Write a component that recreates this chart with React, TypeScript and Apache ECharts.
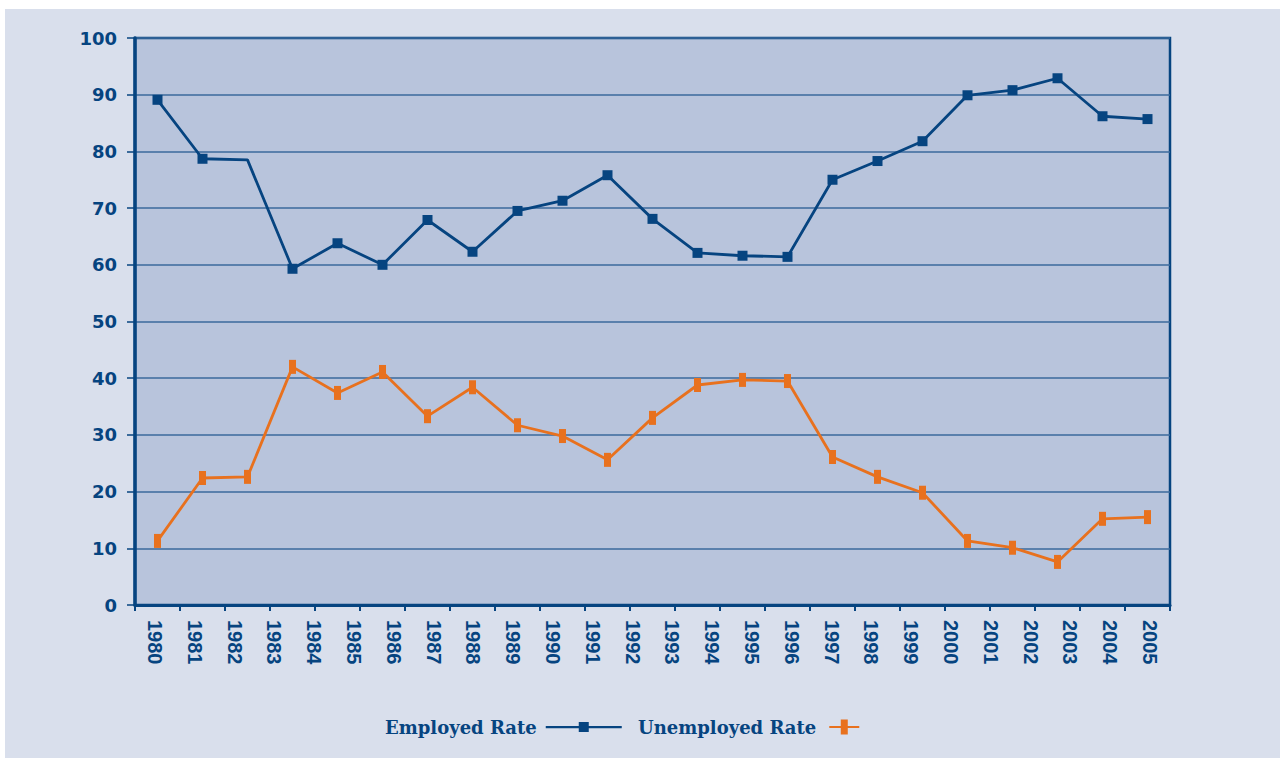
import React, { useEffect, useRef } from "react";
import * as echarts from "echarts";

// 23 plotted observations (evenly spaced along the category axis)
const pointKeys = [
  "p01", "p02", "p03", "p04", "p05", "p06", "p07", "p08", "p09", "p10", "p11", "p12",
  "p13", "p14", "p15", "p16", "p17", "p18", "p19", "p20", "p21", "p22", "p23",
];
// 26 year tick labels printed under the axis
const yearLabels = [
  "1980", "1981", "1982", "1983", "1984", "1985", "1986", "1987", "1988", "1989",
  "1990", "1991", "1992", "1993", "1994", "1995", "1996", "1997", "1998", "1999",
  "2000", "2001", "2002", "2003", "2004", "2005",
];
const employedRate = [
  89.1, 78.7, 78.5, 59.3, 63.8, 60.0, 67.9, 62.3, 69.5, 71.3, 75.8, 68.1,
  62.1, 61.6, 61.4, 75.0, 78.3, 81.8, 89.9, 90.8, 92.9, 86.2, 85.7,
];
const unemployedRate = [
  11.3, 22.4, 22.6, 42.0, 37.4, 41.1, 33.3, 38.4, 31.7, 29.8, 25.6, 33.0,
  38.8, 39.7, 39.5, 26.1, 22.6, 19.8, 11.3, 10.1, 7.6, 15.2, 15.5,
];
// employed observation drawn without a marker
const employedNoMarker = [2];

const NAVY = "#064480";
const ORANGE = "#e8711e";

export default function App() {
  const ref = useRef<HTMLDivElement>(null);
  useEffect(() => {
    if (!ref.current) return;
    const chart = echarts.init(ref.current, undefined, { renderer: "svg" });
    const employedData = employedRate.map((v, i) =>
      employedNoMarker.includes(i) ? { value: v, symbol: "none" } : v
    );
    chart.setOption({
      animation: false,
      backgroundColor: "#d9dfec",
      grid: {
        left: 130,
        top: 29,
        right: 110,
        bottom: 153,
        show: true,
        backgroundColor: "#b8c4dc",
        borderColor: NAVY,
        borderWidth: 2.5,
      },
      legend: [
        {
          data: [
            {
              name: "Employed Rate",
              icon: "path://M0,4 L76,4 L76,6.2 L0,6.2 Z M33,0 L43,0 L43,10 L33,10 Z",
            },
          ],
          left: 375,
          top: 704,
          align: "right",
          itemWidth: 76,
          itemHeight: 10,
          textStyle: {
            fontFamily: "DejaVu Serif",
            fontWeight: "bold",
            fontSize: 18,
            color: NAVY,
            padding: [0, 4, 0, 0],
          },
        },
        {
          data: [
            {
              name: "Unemployed Rate",
              icon: "path://M0,6.5 L30,6.5 L30,8.5 L0,8.5 Z M11.5,0 L18.5,0 L18.5,15 L11.5,15 Z",
            },
          ],
          left: 628,
          top: 704,
          align: "right",
          itemWidth: 30,
          itemHeight: 15,
          textStyle: {
            fontFamily: "DejaVu Serif",
            fontWeight: "bold",
            fontSize: 18,
            color: NAVY,
            padding: [0, 8, 0, 0],
          },
        },
      ],
      xAxis: [
        {
          type: "category",
          data: pointKeys,
          boundaryGap: true,
          axisLine: { lineStyle: { color: NAVY, width: 3 } },
          axisTick: { show: true, length: 6, lineStyle: { color: NAVY, width: 2 } },
          axisLabel: { show: false },
          splitLine: { show: false },
        },
        {
          type: "category",
          data: yearLabels,
          position: "bottom",
          boundaryGap: true,
          axisLine: { show: false },
          axisTick: { show: false },
          axisLabel: {
            rotate: -90,
            margin: 15,
            interval: 0,
            color: NAVY,
            fontFamily: "Liberation Sans",
            fontWeight: "bold",
            fontSize: 20,
          },
          splitLine: { show: false },
        },
      ],
      yAxis: {
        type: "value",
        min: 0,
        max: 100,
        interval: 10,
        axisLine: { show: true, lineStyle: { color: NAVY, width: 3.5 } },
        axisTick: { show: true, length: 8, lineStyle: { color: NAVY, width: 1.5 } },
        axisLabel: {
          margin: 18,
          color: NAVY,
          fontFamily: "DejaVu Sans",
          fontWeight: "bold",
          fontSize: 18,
        },
        splitLine: { show: true, lineStyle: { color: "#3b6a9c", width: 1.5 } },
      },
      series: [
        {
          name: "Employed Rate",
          type: "line",
          xAxisIndex: 0,
          data: employedData,
          symbol: "rect",
          symbolSize: 10,
          color: NAVY,
          lineStyle: { color: NAVY, width: 2.8 },
          itemStyle: { color: NAVY },
        },
        {
          name: "Unemployed Rate",
          type: "line",
          xAxisIndex: 0,
          data: unemployedRate,
          symbol: "rect",
          symbolSize: [7, 14],
          color: ORANGE,
          lineStyle: { color: ORANGE, width: 2.8 },
          itemStyle: { color: ORANGE },
        },
      ],
    });
    return () => chart.dispose();
  }, []);

  return (
    <div style={{ position: "fixed", left: 0, top: 0, width: 1280, height: 758, background: "#ffffff" }}>
      <div
        ref={ref}
        style={{ position: "absolute", left: 5, top: 9, width: 1275, height: 749 }}
      />
    </div>
  );
}
